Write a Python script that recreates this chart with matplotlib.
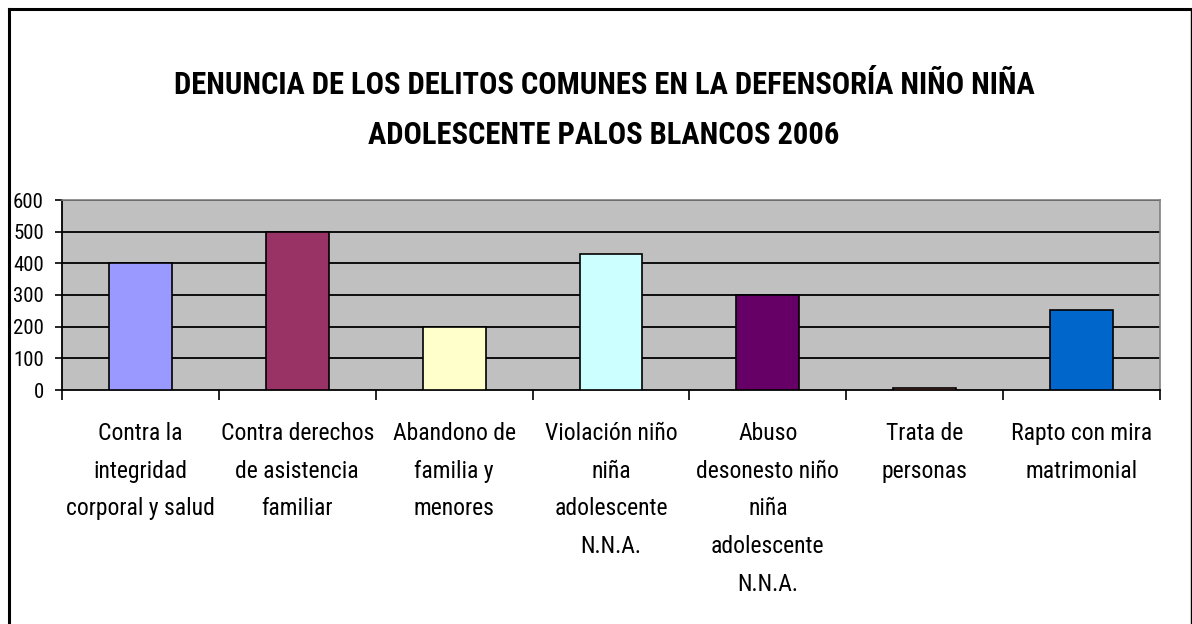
import matplotlib
matplotlib.use("Agg")
import matplotlib.pyplot as plt
from matplotlib.lines import Line2D
from matplotlib import font_manager

names = {f.name for f in font_manager.fontManager.ttflist}
fam = None
for cand in ['Liberation Sans Narrow', 'Arial Narrow', 'Roboto Condensed', 'Archivo Narrow', 'PT Sans Narrow']:
    if cand in names:
        fam = cand
        break
plt.rcParams['font.family'] = [fam or 'Liberation Sans', 'DejaVu Sans']

title = "DENUNCIA DE LOS DELITOS COMUNES EN LA DEFENSORÍA NIÑO NIÑA\nADOLESCENTE PALOS BLANCOS 2006"
categories = [
    "Contra la\nintegridad\ncorporal y salud",
    "Contra derechos\nde asistencia\nfamiliar",
    "Abandono de\nfamilia y\nmenores",
    "Violación niño\nniña\nadolescente\nN.N.A.",
    "Abuso\ndesonesto niño\nniña\nadolescente\nN.N.A.",
    "Trata de\npersonas",
    "Rapto con mira\nmatrimonial",
]
values = [400, 500, 200, 430, 300, 7, 253]
colors = ["#9999FF", "#993366", "#FFFFCC", "#CCFFFF", "#660066", "#FF8080", "#0066CC"]
yticks = [0, 100, 200, 300, 400, 500, 600]

W, H = 1192, 624
fig = plt.figure(figsize=(W / 100, H / 100), dpi=100)
ax = fig.add_axes([62 / W, 1 - 390 / H, (1160 - 62) / W, (390 - 200) / H])
ax.set_facecolor("#C0C0C0")

x = list(range(len(categories)))
ax.bar(x, values, width=0.4, color=colors, edgecolor="black", linewidth=1.2, zorder=3)
ax.set_xlim(-0.5, len(categories) - 0.5)
ax.set_ylim(0, 600)
ax.set_yticks(yticks)
ax.set_yticklabels([str(v) for v in yticks], fontsize=15)
for v in yticks[1:]:
    ax.axhline(v, color="black", linewidth=1.3, zorder=1)

ax.set_xticks(x)
ax.set_xticklabels(categories, fontsize=17, linespacing=1.82, va="top")
ax.tick_params(axis="x", which="major", length=0, pad=23)
ax.set_xticks([i - 0.5 for i in range(len(categories) + 1)], minor=True)
ax.tick_params(axis="x", which="minor", length=7, width=1.2, direction="out", color="black")
ax.tick_params(axis="y", length=5, width=1.2, direction="out", pad=8)

ax.spines["left"].set_color("black")
ax.spines["bottom"].set_color("black")
ax.spines["left"].set_linewidth(1.3)
ax.spines["bottom"].set_linewidth(1.3)
ax.spines["top"].set_color("#808080")
ax.spines["right"].set_color("#808080")
ax.spines["top"].set_linewidth(1.2)
ax.spines["right"].set_linewidth(1.2)

fig.text(604 / W, 1 - 110 / H, title, ha="center", va="center", fontsize=22,
         fontweight="bold", linespacing=1.8)

# outer chart border
fig.add_artist(Line2D([9 / W, 1191 / W], [1 - 9 / H, 1 - 9 / H], transform=fig.transFigure,
                      color="black", linewidth=2.2))
fig.add_artist(Line2D([9 / W, 9 / W], [1 - 9 / H, 0], transform=fig.transFigure,
                      color="black", linewidth=2.2))
fig.add_artist(Line2D([1191 / W, 1191 / W], [1 - 9 / H, 0], transform=fig.transFigure,
                      color="black", linewidth=1.0))

fig.savefig("out.png", dpi=100)
